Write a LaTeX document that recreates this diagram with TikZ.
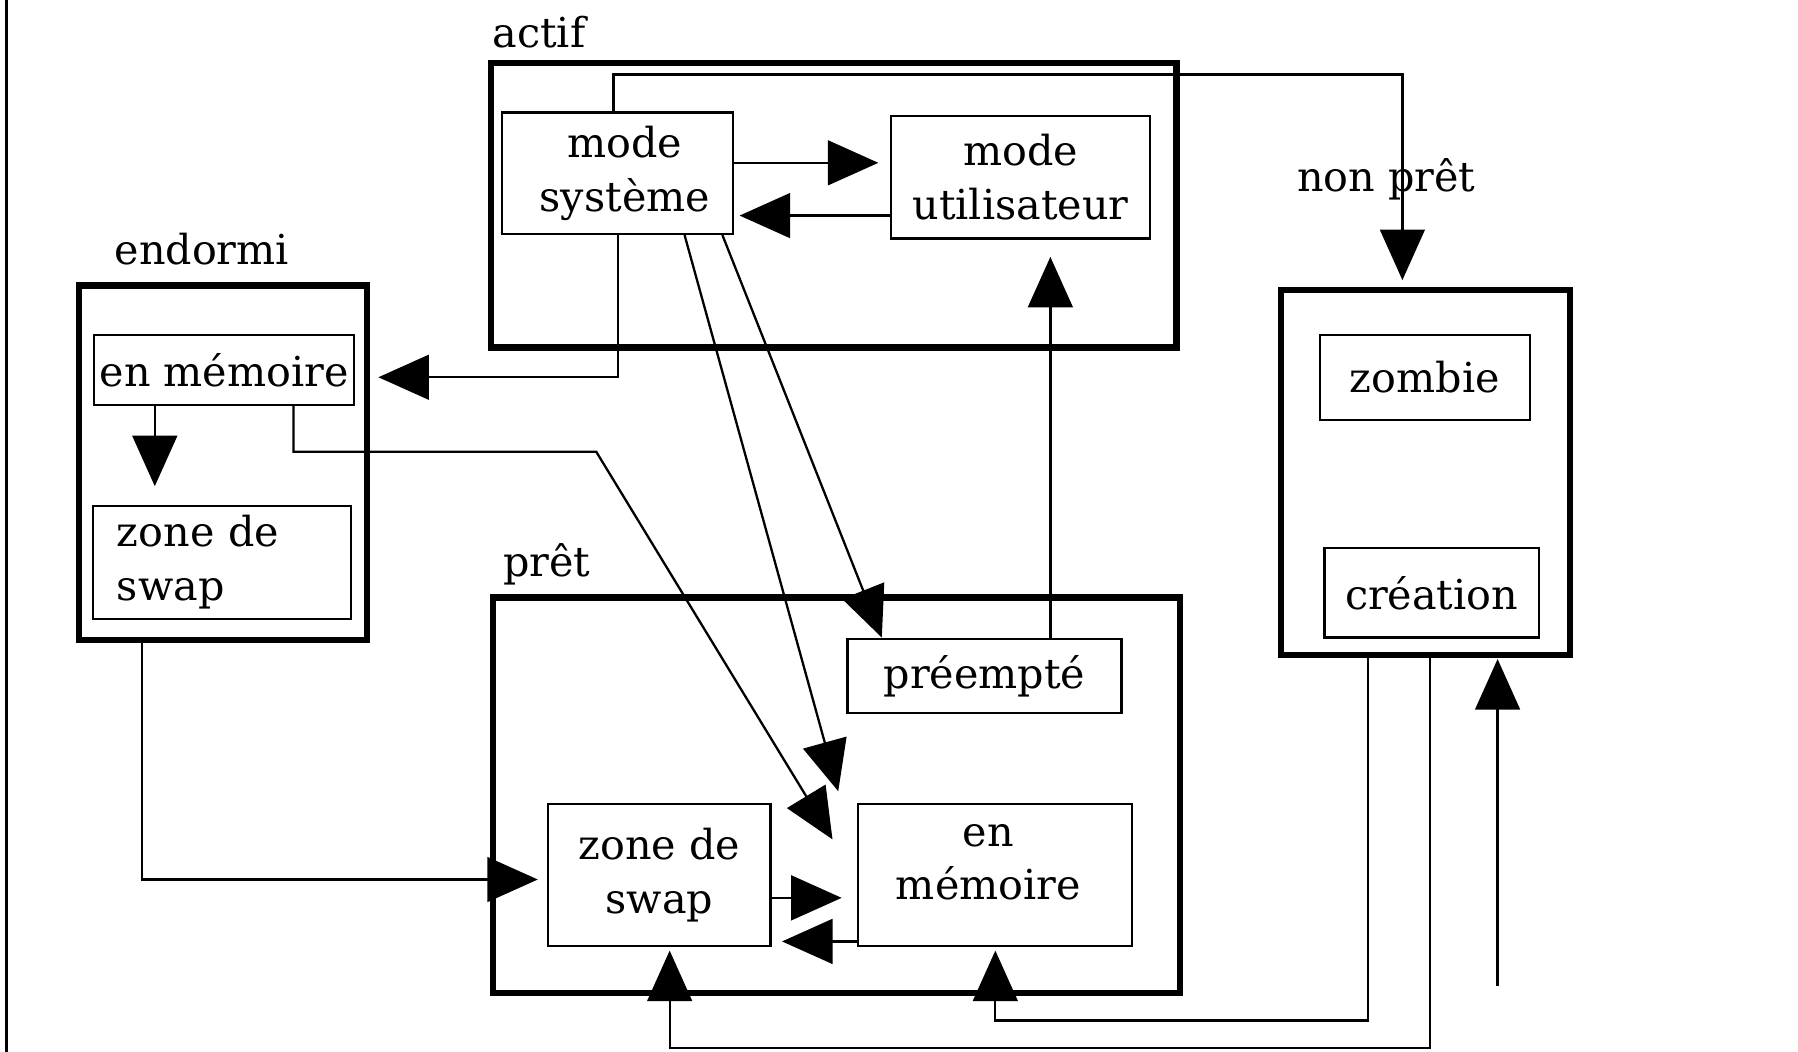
\documentclass[tikz,border=0pt]{standalone}
\usepackage{fontspec}
\setmainfont{DejaVu Serif}
\usetikzlibrary{arrows.meta,calc}
\newcommand\diagfont{\fontsize{36}{47}\selectfont}
\begin{document}
\begin{tikzpicture}[x=1pt,y=-1pt,
  frame/.style={draw,line width=5.5pt,inner sep=0pt},
  cell/.style={draw,line width=2pt,inner sep=0pt,align=center,font=\diagfont},
  caption/.style={inner sep=0pt,align=center,font=\diagfont},
  title/.style={inner sep=0pt,font=\diagfont,anchor=base},
  link/.style={line width=2pt,-{Triangle[length=44pt,width=39pt]}},
]
\useasboundingbox (0,0) rectangle (1568,917);
\draw[line width=2.5pt] (6,0) -- (6,917);

% process states
\node[frame,minimum width=598pt,minimum height=248pt] (actF) at (727,179) {};
\node[frame,minimum width=251pt,minimum height=309pt] (endF) at (194.5,403.5) {};
\node[frame,minimum width=599pt,minimum height=345pt] (pretF) at (729.5,693.5) {};
\node[frame,minimum width=252pt,minimum height=318pt] (npF) at (1243,412) {};

\node[title] (actT) at (470,41) {actif};
\node[title] (endT) at (176,231) {endormi};
\node[title] (pretT) at (477,503) {prêt};
\node[title] (npT) at (1209,167) {non prêt};

% sub-states
\node[cell,minimum width=201pt,minimum height=106pt] (sys) at (538.5,151) {};
\node[caption] (sysT) at (545,151) {mode\\système};
\node[cell,minimum width=226pt,minimum height=107pt] (usr) at (890,154.5) {mode\\utilisateur};
\node[cell,minimum width=227pt,minimum height=61pt] (emE) at (195.5,322.5) {en mémoire};
\node[cell,minimum width=225pt,minimum height=99pt,align=left,text width=183pt,inner xsep=21pt] (swE) at (193.5,490.5) {zone de\\swap};
\node[cell,minimum width=239pt,minimum height=65pt] (pre) at (858.5,589.5) {préempté};
\node[cell,minimum width=194pt,minimum height=124pt] (swP) at (575,763) {zone de\\swap};
\node[cell,minimum width=239pt,minimum height=124pt] (memP) at (867.5,763) {};
\node[caption] (memPT) at (862,752) {en\\mémoire};
\node[cell,minimum width=183pt,minimum height=74pt] (zom) at (1242.5,329) {zombie};
\node[cell,minimum width=187pt,minimum height=78pt] (cre) at (1248.5,517) {création};

% transitions
\draw[link,shorten >=10pt] (sys.east |- 0,142) -- (usr.west |- 0,142);
\draw[link,shorten >=5pt] (usr.west |- 0,188) -- (sys.east |- 0,188);
\draw[link,shorten >=6pt] (sys.north -| 535,0) |- (1223,65) -- (npF.north -| 1223,0);
\draw[link,shorten >=20pt] (sys.south -| 539,0) |- (emE.east |- 0,329);
\draw[link,shorten >=16pt] (emE.south -| 135,0) -- (swE.north -| 135,0);
\draw[link] (emE.south -| 256,0) |- (520,394) -- ($(memP.west)+(-21,-31)$);
\draw[link] (sys.south -| 597,0) -- ($(memP.north west)+(-16,-10)$);
\draw[link] (sys.south -| 630,0) -- (pre.north -| 769,0);
\draw[link,shorten >=15pt] (pre.north -| 916,0) -- (usr.south -| 916,0);
\draw[link,shorten >=8pt] (endF.south -| 124,0) |- (swP.west |- 0,767);
\draw[link,shorten >=13pt] (swP.east |- 0,783) -- (memP.west |- 0,783);
\draw[link,shorten >=9pt] (memP.west |- 0,821) -- (swP.east |- 0,821);
\draw[link,shorten >=3pt] (npF.south -| 1193,0) |- (868,890) -- (memP.south -| 868,0);
\draw[link,shorten >=3pt] (npF.south -| 1247,0) |- (584,914) -- (swP.south -| 584,0);
\coordinate (newproc) at (1306,860);
\draw[link,shorten >=1pt] (newproc) -- (npF.south -| 1306,0);
\end{tikzpicture}
\end{document}
